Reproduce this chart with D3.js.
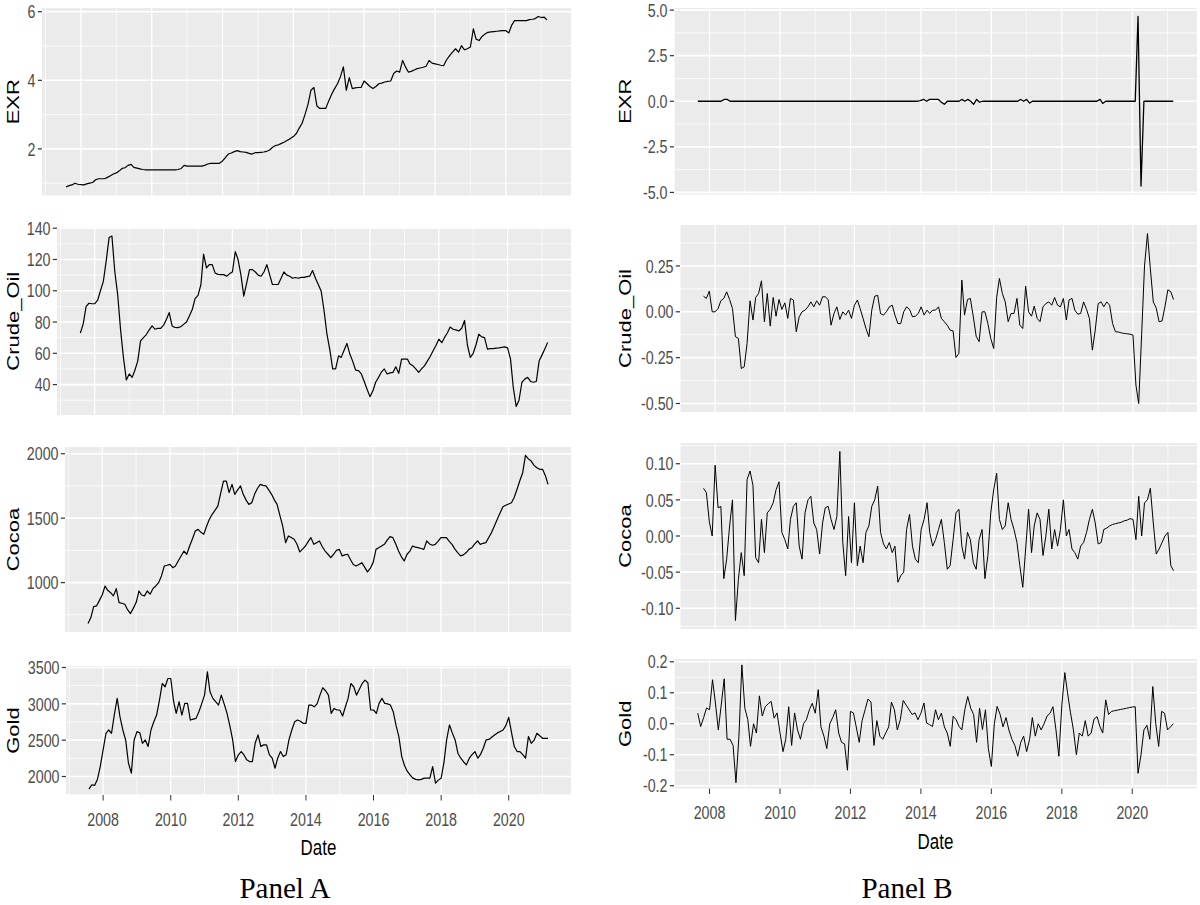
<!DOCTYPE html>
<html>
<head>
<meta charset="utf-8">
<script src="https://cdn.jsdelivr.net/npm/d3@7"></script>
<style>
  body { margin: 0; background: #fff; }
  svg { display: block; }
</style>
</head>
<body>
<svg id="chart" width="1200" height="905"></svg>
<script>
// monthly dates: levels Aug 2007 - Mar 2021, returns Sep 2007 - Mar 2021
var monthsA = d3.timeMonth.range(new Date(2007, 7, 1), new Date(2021, 3, 1));
var monthsB = d3.timeMonth.range(new Date(2007, 8, 1), new Date(2021, 3, 1));

// ---------------- Panel A : levels ----------------
var exrLevel = [
  0.89, 0.93, 0.95, 1.00, 0.97,
  0.96, 0.95, 0.98, 1.00, 1.02, 1.10, 1.13, 1.13, 1.13, 1.17, 1.22, 1.27,
  1.30, 1.36, 1.43, 1.45, 1.52, 1.55, 1.46, 1.44, 1.42, 1.40, 1.39, 1.39,
  1.39, 1.39, 1.39, 1.39, 1.39, 1.39, 1.39, 1.39, 1.39, 1.40, 1.43, 1.52,
  1.50, 1.50, 1.50, 1.50, 1.50, 1.50, 1.52, 1.56, 1.58, 1.58, 1.58, 1.58,
  1.65, 1.75, 1.85, 1.88, 1.92, 1.95, 1.92, 1.91, 1.90, 1.87, 1.85, 1.89,
  1.89, 1.90, 1.91, 1.93, 1.97, 2.05, 2.10, 2.12, 2.16, 2.20, 2.25, 2.30,
  2.36, 2.45, 2.60, 2.75, 3.00, 3.30, 3.71, 3.79, 3.25, 3.18, 3.18, 3.18,
  3.40, 3.60, 3.75, 3.90, 4.10, 4.39, 3.71, 4.08, 3.76, 3.78, 3.79, 3.79,
  3.98, 3.90, 3.82, 3.76, 3.82, 3.90, 3.92, 3.95, 3.97, 3.98, 4.20, 4.27,
  4.24, 4.58, 4.40, 4.24, 4.26, 4.30, 4.34, 4.36, 4.38, 4.41, 4.58, 4.50,
  4.48, 4.46, 4.44, 4.43, 4.60, 4.72, 4.82, 4.92, 4.82, 5.01, 4.89, 4.92,
  4.97, 5.50, 5.20, 5.16, 5.28, 5.35, 5.40, 5.41, 5.42, 5.43, 5.44, 5.45,
  5.45, 5.38, 5.60, 5.74, 5.74, 5.74, 5.74, 5.74, 5.77, 5.78, 5.80, 5.86,
  5.83, 5.84, 5.76
];
var oilLevel = [
  73, 79, 90, 92, 91.7,
  91.7, 94, 100, 106, 119, 134, 135, 112, 97, 75, 57, 43,
  46.8, 44.6, 49, 55, 68, 70, 72, 75, 77.5, 75.4, 76, 76,
  78, 82, 86, 77.5, 76.5, 76.4, 77, 78.5, 80, 83.8, 88, 95,
  97, 104, 123.5, 114.6, 116.7, 116.7, 111.4, 110.5, 110.3, 110.3, 109.3, 110.8,
  112, 125, 120, 110, 96.6, 105, 113.5, 113.5, 112, 110, 109.3, 112,
  116.7, 110, 104, 104, 104, 108, 112, 110, 109.3, 108, 108.5, 108,
  108.6, 108.6, 109, 109.3, 112.9, 108, 104, 99.7, 87, 72.2, 62, 50,
  50, 58.4, 57.4, 62, 66.3, 59.5, 55, 49.3, 48.9, 46.8, 42, 37,
  32.3, 36, 41.5, 44.6, 48, 50, 46.8, 47.5, 47.8, 51.4, 47.2, 56.3,
  56.3, 56.3, 53.1, 52, 50, 47.8, 50, 52, 55, 58, 61.6, 65,
  69, 66.8, 70, 73, 76.8, 75.4, 75, 74.3, 76, 81, 65, 57.4,
  60, 65.8, 72.2, 70.5, 70, 62.7, 63, 63, 63.3, 63.5, 63.8, 64.1,
  63.5, 56.3, 38.3, 26, 30, 41.5, 43.5, 44.6, 42, 41.5, 42, 55.2,
  59, 63, 67
];
var cocoaLevel = [
  682, 729, 814, 819, 860,
  904, 974, 940, 922, 897, 953, 845, 840, 832, 790, 760, 800,
  845, 935, 904, 897, 935, 910, 953, 974, 1000, 1052, 1129, 1135,
  1142, 1116, 1129, 1170, 1207, 1245, 1220, 1284, 1340, 1400, 1413, 1390,
  1375, 1439, 1490, 1530, 1560, 1594, 1690, 1788, 1788, 1698, 1762, 1685,
  1720, 1750, 1685, 1640, 1607, 1620, 1685, 1730, 1762, 1755, 1750, 1720,
  1685, 1640, 1607, 1520, 1439, 1310, 1362, 1350, 1336, 1300, 1238, 1260,
  1284, 1320, 1349, 1297, 1310, 1323, 1280, 1245, 1220, 1194, 1220, 1250,
  1258, 1207, 1215, 1220, 1180, 1140, 1129, 1140, 1155, 1120, 1083, 1110,
  1155, 1258, 1270, 1284, 1297, 1330, 1357, 1349, 1300, 1245, 1200, 1168,
  1220, 1245, 1284, 1275, 1271, 1265, 1258, 1323, 1300, 1290, 1297, 1320,
  1349, 1349, 1349, 1320, 1297, 1260, 1233, 1207, 1215, 1233, 1260, 1271,
  1300, 1323, 1297, 1305, 1310, 1350, 1388, 1440, 1491, 1540, 1589, 1600,
  1610, 1620, 1660, 1724, 1790, 1853, 1987, 1960, 1943, 1910, 1891, 1879,
  1879, 1830, 1762
];
var goldLevel = [
  1826, 1886, 1877, 1963, 2137,
  2366, 2595, 2640, 2595, 2850, 3075, 2823, 2640, 2500, 2183, 2046, 2503,
  2617, 2600, 2457, 2503, 2412, 2640, 2750, 2846, 3052, 3280, 3235, 3349,
  3349, 3029, 2869, 3029, 2846, 3006, 3006, 2777, 2790, 2800, 2892, 3000,
  3120, 3440, 3166, 3075, 3030, 2983, 3120, 3000, 2869, 2700, 2503, 2206,
  2297, 2343, 2300, 2229, 2206, 2206, 2457, 2572, 2412, 2435, 2435, 2300,
  2252, 2114, 2250, 2343, 2275, 2300, 2503, 2640, 2754, 2777, 2760, 2732,
  2732, 2983, 2983, 2960, 3000, 3120, 3221, 3180, 3120, 2869, 2937, 2915,
  2915, 2832, 2950, 3075, 3280, 3235, 3120, 3200, 3280, 3326, 3290, 2915,
  2915, 2869, 3006, 3075, 3006, 3000, 2983, 2892, 2700, 2549, 2274, 2150,
  2069, 2020, 1977, 1960, 1954, 1960, 1977, 1977, 1977, 2137, 1909, 1950,
  1977, 2200, 2503, 2709, 2600, 2503, 2320, 2252, 2200, 2160, 2252, 2300,
  2343, 2252, 2300, 2389, 2503, 2510, 2540, 2572, 2600, 2620, 2640, 2700,
  2814, 2600, 2412, 2343, 2343, 2300, 2252, 2549, 2457, 2500, 2595, 2560,
  2526, 2526, 2526
];

// ---------------- Panel B : returns ----------------
var exrReturn = [
  0, 0, 0, 0,
  0, 0, 0, 0, 0, 0.1, 0.1, 0, 0, 0, 0, 0,
  0, 0, 0, 0, 0, 0, 0, 0, 0, 0, 0, 0,
  0, 0, 0, 0, 0, 0, 0, 0, 0, 0, 0, 0,
  0, 0, 0, 0, 0, 0, 0, 0, 0, 0, 0, 0,
  0, 0, 0, 0, 0, 0, 0, 0, 0, 0, 0, 0,
  0, 0, 0, 0, 0, 0, 0, 0, 0, 0, 0, 0,
  0.05, 0.1, 0, 0.1, 0.1, 0.1, 0.1, -0.05, -0.17, 0, 0, 0,
  0, 0, 0.1, 0, 0.1, 0, -0.17, 0.1, -0.05, 0, 0, 0,
  0, 0, 0, 0, 0, 0, 0, 0, 0, 0, 0.1, 0,
  0.1, -0.1, 0, 0, 0, 0, 0, 0, 0, 0, 0, 0,
  0, 0, 0, 0, 0, 0, 0, 0, 0, 0, 0, 0,
  0, 0.1, -0.12, 0, 0, 0, 0, 0, 0, 0, 0, 0,
  0, 0, 4.65, -4.65, 0, 0, 0, 0, 0, 0, 0, 0,
  0, 0, 0
];
var oilReturn = [
  0.085, 0.073, 0.113, 0.0,
  0.0, 0.018, 0.06, 0.073, 0.109, 0.067, 0.018, -0.136, -0.145, -0.309, -0.30, -0.173,
  0.06, -0.045, 0.078, 0.1, 0.169, -0.054, 0.1, -0.078, 0.078, -0.024, 0.067, 0.013,
  0.049, -0.036, 0.073, 0.064, -0.109, -0.027, 0.0, 0.009, 0.027, 0.054, 0.027, 0.06,
  0.036, 0.082, 0.082, 0.067, -0.073, -0.009, 0.027, -0.042, 0.0, -0.018, 0.009, -0.036,
  0.036, 0.064, 0.018, -0.036, -0.091, -0.136, 0.009, 0.085, 0.09, -0.01, -0.018, 0.0,
  0.027, 0.036, -0.018, -0.064, -0.064, 0.0, 0.027, 0.013, -0.027, -0.024, -0.009, 0.027,
  -0.018, 0.009, -0.009, 0.009, 0.009, 0.027, -0.036, -0.054, -0.073, -0.1, -0.104, -0.249,
  -0.227, 0.173, -0.018, 0.067, 0.073, -0.027, -0.133, -0.163, 0.0, 0.0, -0.064, -0.145,
  -0.2, 0.078, 0.182, 0.1, 0.054, -0.054, -0.009, -0.009, 0.073, -0.073, -0.091, 0.14,
  0.0, -0.024, 0.031, -0.036, -0.054, 0.027, 0.045, 0.054, 0.036, 0.078, 0.036, 0.027,
  0.073, -0.045, 0.064, 0.073, 0.009, -0.013, -0.009, 0.054, 0.013, -0.036, -0.209, -0.1,
  0.045, 0.054, 0.027, 0.054, 0.036, -0.064, -0.109, -0.11, -0.115, -0.118, -0.12, -0.122,
  -0.127, -0.40, -0.5, -0.12, 0.25, 0.427, 0.236, 0.054, 0.02, -0.054, -0.05, 0.027,
  0.12, 0.109, 0.067
];
var cocoaReturn = [
  0.066, 0.060, 0.02, 0.0,
  0.098, 0.039, 0.041, -0.059, -0.032, 0.014, 0.050, -0.117, -0.06, -0.023, -0.055, 0.078,
  0.09, 0.07, -0.03, -0.037, 0.023, -0.023, 0.032, 0.037, 0.046, 0.064, 0.075, 0.005,
  -0.005, -0.018, 0.023, 0.041, 0.046, -0.014, -0.032, 0.032, 0.050, 0.055, 0.018, 0.009,
  -0.025, 0.018, 0.039, 0.041, 0.023, 0.009, 0.027, 0.117, -0.009, -0.055, 0.027, -0.037,
  0.046, -0.041, -0.014, -0.037, 0.005, 0.014, 0.041, 0.050, 0.069, 0.005, -0.011, -0.018,
  -0.009, -0.023, -0.014, -0.064, -0.055, -0.050, 0.009, 0.03, -0.014, -0.032, -0.037, 0.009,
  0.023, 0.046, 0.005, -0.014, -0.005, 0.009, 0.023, -0.009, -0.046, -0.041, -0.005, 0.032,
  0.037, -0.014, -0.032, 0.005, -0.005, -0.037, -0.046, -0.005, 0.009, -0.059, -0.027, 0.032,
  0.064, 0.087, 0.023, 0.009, 0.014, 0.046, 0.023, 0.009, -0.009, -0.041, -0.071, -0.018,
  0.037, -0.023, 0.014, 0.032, 0.023, -0.027, 0.0, 0.037, -0.018, 0.009, -0.014, 0.009,
  0.050, 0.0, 0.009, -0.018, -0.023, -0.032, -0.014, -0.009, 0.005, 0.023, 0.037, 0.018,
  -0.011, -0.009, 0.009, 0.011, 0.014, 0.016, 0.017, 0.018, 0.019, 0.021, 0.022, 0.024,
  0.023, -0.005, 0.055, 0.0, 0.046, 0.050, 0.066, 0.018, -0.025, -0.018, -0.009, 0.0,
  0.005, -0.041, -0.048
];
var goldReturn = [
  0.034, -0.009, 0.02, 0.051,
  0.045, 0.142, 0.07, -0.02, 0.06, 0.145, -0.05, -0.05, -0.07, -0.19, -0.04, 0.19,
  0.05, 0.013, -0.073, 0.0, -0.03, 0.09, 0.025, 0.055, 0.065, 0.072, 0.018, 0.035,
  -0.03, -0.09, -0.05, 0.055, -0.07, 0.035, -0.02, -0.05, 0.0, 0.013, 0.045, 0.066,
  0.034, 0.11, -0.01, -0.04, -0.08, 0.0, 0.02, 0.045, -0.03, -0.06, -0.065, -0.15,
  0.04, 0.035, -0.01, -0.06, 0.01, 0.045, 0.08, 0.07, -0.07, 0.01, -0.04, -0.05,
  -0.03, -0.01, 0.07, 0.045, -0.02, 0.013, 0.075, 0.06, 0.045, 0.03, 0.035, 0.013,
  0.034, 0.067, 0.002, -0.003, -0.009, 0.045, 0.013, 0.034, -0.01, -0.03, -0.073, 0.024,
  0.013, -0.009, -0.02, 0.045, 0.088, 0.05, 0.03, -0.06, 0.05, -0.019, 0.045, -0.08,
  -0.138, 0.0, 0.056, 0.03, -0.01, 0.02, -0.02, -0.05, -0.07, -0.105, -0.06, -0.04,
  -0.09, -0.05, 0.02, -0.04, 0.0, -0.02, 0.0, 0.025, 0.034, 0.055, -0.02, -0.105,
  0.06, 0.165, 0.1, 0.035, -0.02, -0.1, -0.03, -0.04, 0.01, -0.04, -0.03, 0.015,
  0.023, -0.01, -0.03, 0.077, 0.03, 0.04, 0.042, 0.044, 0.046, 0.048, 0.05, 0.052,
  0.054, 0.055, -0.16, -0.1, -0.02, -0.005, -0.05, 0.12, 0.0, -0.073, 0.04, 0.034,
  -0.02, -0.01, 0.0
];

// tick labels
var yearMajor = [2008, 2010, 2012, 2014, 2016, 2018, 2020];
var yearMinor = [2007, 2009, 2011, 2013, 2015, 2017, 2019, 2021];
var ticksExrA = [2, 4, 6];
var ticksOilA = [40, 60, 80, 100, 120, 140];
var ticksCocoaA = [1000, 1500, 2000];
var ticksGoldA = [2000, 2500, 3000, 3500];
var ticksExrB = [-5, -2.5, 0, 2.5, 5];
var ticksOilB = [-0.5, -0.25, 0, 0.25];
var ticksCocoaB = [-0.1, -0.05, 0, 0.05, 0.1];
var ticksGoldB = [-0.2, -0.1, 0, 0.1, 0.2];

var svg = d3.select("#chart");
var SQ = 0.77; // the figure is squeezed horizontally

// layout of each facet (plot background box)
var panels = [
  { name: "EXR", dates: monthsA, values: exrLevel, ticks: ticksExrA, fmt: d3.format("d"),
    box: { l: 42, t: 8, r: 571, b: 195.5 }, titleX: 13, xAxis: false, lw: 1.2 },
  { name: "Crude_Oil", dates: monthsA, values: oilLevel, ticks: ticksOilA, fmt: d3.format("d"),
    box: { l: 57, t: 227.5, r: 571, b: 415 }, titleX: 13, xAxis: false, lw: 1.2 },
  { name: "Cocoa", dates: monthsA, values: cocoaLevel, ticks: ticksCocoaA, fmt: d3.format("d"),
    box: { l: 65, t: 447, r: 571, b: 632 }, titleX: 13, xAxis: false, lw: 1.2 },
  { name: "Gold", dates: monthsA, values: goldLevel, ticks: ticksGoldA, fmt: d3.format("d"),
    box: { l: 66, t: 666, r: 571, b: 795 }, titleX: 13, xAxis: true, lw: 1.2 },
  { name: "EXR", dates: monthsB, values: exrReturn, ticks: ticksExrB, fmt: d3.format(".1f"),
    box: { l: 674, t: 8, r: 1197, b: 194.5 }, titleX: 625, xAxis: false, lw: 1.3 },
  { name: "Crude_Oil", dates: monthsB, values: oilReturn, ticks: ticksOilB, fmt: d3.format(".2f"),
    box: { l: 680, t: 225, r: 1197, b: 412 }, titleX: 625, xAxis: false, lw: 1.0 },
  { name: "Cocoa", dates: monthsB, values: cocoaReturn, ticks: ticksCocoaB, fmt: d3.format(".2f"),
    box: { l: 680, t: 443, r: 1197, b: 629 }, titleX: 625, xAxis: false, lw: 1.0 },
  { name: "Gold", dates: monthsB, values: goldReturn, ticks: ticksGoldB, fmt: d3.format(".1f"),
    box: { l: 674, t: 659, r: 1197, b: 788.5 }, titleX: 625, xAxis: true, lw: 1.0 }
];

function squeezed(g, x, y) {
  return g.append("g").attr("transform", "translate(" + x + "," + y + ") scale(" + SQ + ",1)");
}

function drawPanel(p) {
  var g = svg.append("g");
  var b = p.box;

  // ggplot style 5% expansion on both scales
  var xe = d3.extent(p.dates), xp = (xe[1] - xe[0]) * 0.05;
  var x = d3.scaleTime()
    .domain([new Date(+xe[0] - xp), new Date(+xe[1] + xp)])
    .range([b.l, b.r]);
  var ye = d3.extent(p.values), yp = (ye[1] - ye[0]) * 0.05;
  var y = d3.scaleLinear().domain([ye[0] - yp, ye[1] + yp]).range([b.b, b.t]);
  var yd = y.domain();

  g.append("rect")
    .attr("x", b.l).attr("y", b.t)
    .attr("width", b.r - b.l).attr("height", b.b - b.t)
    .attr("fill", "#EBEBEB");

  // minor grid lines
  var step = p.ticks[1] - p.ticks[0];
  var yMinor = [p.ticks[0] - step / 2].concat(p.ticks.map(function (v) { return v + step / 2; }))
    .filter(function (v) { return v > yd[0] && v < yd[1]; });
  g.selectAll(".ymin").data(yMinor).enter().append("line")
    .attr("x1", b.l).attr("x2", b.r)
    .attr("y1", function (d) { return y(d); }).attr("y2", function (d) { return y(d); })
    .attr("stroke", "#fff").attr("stroke-width", 0.8);
  g.selectAll(".xmin").data(yearMinor.map(function (yr) { return new Date(yr, 0, 1); })
      .filter(function (d) { return x(d) > b.l && x(d) < b.r; }))
    .enter().append("line")
    .attr("x1", function (d) { return x(d); }).attr("x2", function (d) { return x(d); })
    .attr("y1", b.t).attr("y2", b.b)
    .attr("stroke", "#fff").attr("stroke-width", 0.65);

  // major grid lines
  g.selectAll(".ymaj").data(p.ticks).enter().append("line")
    .attr("x1", b.l).attr("x2", b.r)
    .attr("y1", function (d) { return y(d); }).attr("y2", function (d) { return y(d); })
    .attr("stroke", "#fff").attr("stroke-width", 1.6);
  var majDates = yearMajor.map(function (yr) { return new Date(yr, 0, 1); });
  g.selectAll(".xmaj").data(majDates).enter().append("line")
    .attr("x1", function (d) { return x(d); }).attr("x2", function (d) { return x(d); })
    .attr("y1", b.t).attr("y2", b.b)
    .attr("stroke", "#fff").attr("stroke-width", 1.25);

  // series line
  var pts = p.values.map(function (v, i) { return [p.dates[i], v]; })
    .filter(function (d) { return d[0] !== undefined; });
  g.append("path")
    .datum(pts)
    .attr("fill", "none")
    .attr("stroke", "#000")
    .attr("stroke-width", p.lw)
    .attr("stroke-linejoin", "round")
    .attr("d", d3.line()
      .x(function (d) { return x(d[0]); })
      .y(function (d) { return y(d[1]); }));

  // y axis ticks + labels
  p.ticks.forEach(function (v) {
    g.append("line")
      .attr("x1", b.l - 4.2).attr("x2", b.l)
      .attr("y1", y(v)).attr("y2", y(v))
      .attr("stroke", "#333").attr("stroke-width", 1.2);
    squeezed(g, b.l - 6.5, y(v)).append("text")
      .attr("text-anchor", "end")
      .attr("dy", "0.36em")
      .attr("font-family", "Liberation Sans, Arial, sans-serif")
      .attr("font-size", 18.5)
      .attr("fill", "#4D4D4D")
      .text(p.fmt(v).replace("\u2212", "-"));
  });

  // y axis title
  squeezed(g, p.titleX, (b.t + b.b) / 2).append("text")
    .attr("transform", "rotate(-90)")
    .attr("text-anchor", "middle")
    .attr("dy", "0.36em")
    .attr("font-family", "Liberation Sans, Arial, sans-serif")
    .attr("font-size", 22)
    .attr("fill", "#000")
    .text(p.name);

  if (p.xAxis) {
    majDates.forEach(function (d) {
      g.append("line")
        .attr("x1", x(d)).attr("x2", x(d))
        .attr("y1", b.b).attr("y2", b.b + 5.5)
        .attr("stroke", "#333").attr("stroke-width", 1);
      squeezed(g, x(d), b.b + 30.5).append("text")
        .attr("text-anchor", "middle")
        .attr("font-family", "Liberation Sans, Arial, sans-serif")
        .attr("font-size", 18.5)
        .attr("fill", "#4D4D4D")
        .text(d.getFullYear());
    });
    squeezed(g, (b.l + b.r) / 2, b.b + 60).append("text")
      .attr("text-anchor", "middle")
      .attr("font-family", "Liberation Sans, Arial, sans-serif")
      .attr("font-size", 22)
      .attr("fill", "#000")
      .text("Date");
  }
}

panels.forEach(drawPanel);

// panel captions
svg.append("text")
  .attr("x", 285).attr("y", 898)
  .attr("text-anchor", "middle")
  .attr("font-family", "Liberation Serif, Times New Roman, serif")
  .attr("font-size", 29)
  .attr("fill", "#000")
  .text("Panel A");
svg.append("text")
  .attr("x", 907).attr("y", 898)
  .attr("text-anchor", "middle")
  .attr("font-family", "Liberation Serif, Times New Roman, serif")
  .attr("font-size", 29)
  .attr("fill", "#000")
  .text("Panel B");
</script>
</body>
</html>
